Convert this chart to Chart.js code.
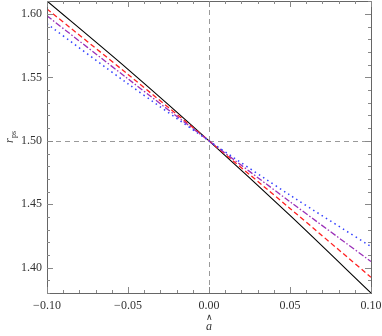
<!DOCTYPE html>
<html lang="en">
<head>
<meta charset="UTF-8">
<title>r_ps vs a-hat</title>
<script src="https://cdn.jsdelivr.net/npm/chart.js"></script>
<style>
body { margin: 0; padding: 0; background: #fff; }
.wrap { position: relative; width: 382px; height: 336px; }
</style>
</head>
<body>
<div class="wrap"><canvas id="rpsChart" width="382" height="336"></canvas></div>
<script>
// values
const aHat = [-0.10, -0.05, 0.00, 0.05, 0.10];
const rBlack  = [1.6103, 1.5564, 1.5000, 1.4412, 1.3800];
const rRed    = [1.6040, 1.5524, 1.5000, 1.4467, 1.3924];
const rPurple = [1.5986, 1.5489, 1.5000, 1.4520, 1.4048];
const rBlue   = [1.5923, 1.5450, 1.5000, 1.4572, 1.4166];
const xTicks = [-0.10, -0.05, 0.00, 0.05, 0.10];
const yTicks = [1.40, 1.45, 1.50, 1.55, 1.60];
const xMinor = 0.01, yMinor = 0.01;
const xRefLine = 0, yRefLine = 1.50;

const pts = arr => arr.map((v, i) => ({ x: aHat[i], y: v }));
const fmt = v => v.toFixed(2).replace('-', '\u2212');
const serif = "'Liberation Serif', 'Times New Roman', serif";

// frame, inward ticks, dashed reference lines and axis titles
const framePlugin = {
  id: 'frame',
  beforeDatasetsDraw(chart) {
    const { ctx, chartArea: a, scales: { x, y } } = chart;
    ctx.save();
    ctx.strokeStyle = '#9a9a9a';
    ctx.lineWidth = 1;
    ctx.setLineDash([5, 4]);
    ctx.beginPath();
    const px = Math.round(x.getPixelForValue(xRefLine)) + 0.5;
    const py = Math.round(y.getPixelForValue(yRefLine)) + 0.5;
    ctx.moveTo(px, a.top); ctx.lineTo(px, a.bottom);
    ctx.moveTo(a.left, py); ctx.lineTo(a.right, py);
    ctx.stroke();
    ctx.restore();
  },
  afterDraw(chart) {
    const { ctx, chartArea: a, scales: { x, y } } = chart;
    ctx.save();
    ctx.strokeStyle = '#666';
    ctx.lineWidth = 1;
    ctx.strokeRect(Math.round(a.left) + 0.5, Math.round(a.top) + 0.5,
      Math.round(a.right - a.left), Math.round(a.bottom - a.top));
    ctx.strokeStyle = '#888';
    ctx.beginPath();
    for (let k = -10; k <= 10; k++) {
      const v = k * xMinor;
      const p = Math.round(x.getPixelForValue(v)) + 0.5;
      const len = k % 5 === 0 ? 6 : 3;
      ctx.moveTo(p, a.bottom); ctx.lineTo(p, a.bottom - len);
      ctx.moveTo(p, a.top); ctx.lineTo(p, a.top + len);
    }
    for (let k = 138; k <= 161; k++) {
      const v = k * yMinor;
      if (v < y.min || v > y.max) continue;
      const p = Math.round(y.getPixelForValue(v)) + 0.5;
      const len = k % 5 === 0 ? 6 : 3;
      ctx.moveTo(a.left, p); ctx.lineTo(a.left + len, p);
      ctx.moveTo(a.right, p); ctx.lineTo(a.right - len, p);
    }
    ctx.stroke();

    // x title: hat over italic a
    ctx.fillStyle = '#333';
    ctx.textAlign = 'center';
    ctx.font = '9px ' + serif;
    const cx = (a.left + a.right) / 2;
    ctx.fillText('\u2227', cx, 320);
    ctx.font = 'italic 12px ' + serif;
    ctx.fillText('a', cx, 330);

    // y title: r with subscript ps, rotated
    ctx.translate(13, 136);
    ctx.rotate(-Math.PI / 2);
    ctx.textAlign = 'left';
    ctx.font = 'italic 12px ' + serif;
    ctx.fillText('r', -7, 0);
    ctx.font = '8px ' + serif;
    ctx.fillText('ps', -2, 3);
    ctx.restore();
  }
};

const line = (data, color, dash, width) => ({
  data: pts(data),
  borderColor: color,
  borderWidth: width,
  borderDash: dash,
  pointRadius: 0,
  fill: false,
  tension: 0.3
});

new Chart(document.getElementById('rpsChart'), {
  type: 'line',
  data: {
    datasets: [
      line(rBlue, '#3340ff', [1.5, 3.5], 1.5),
      line(rPurple, '#9b30b8', [6, 2, 1.5, 2], 1.3),
      line(rRed, '#ff2020', [5, 3], 1.3),
      line(rBlack, '#000', [], 1.1)
    ]
  },
  options: {
    responsive: false,
    animation: false,
    devicePixelRatio: 1,
    layout: { padding: { top: 1, right: 11, left: 0, bottom: 0 } },
    plugins: { legend: { display: false }, tooltip: { enabled: false } },
    scales: {
      x: {
        type: 'linear',
        min: -0.1, max: 0.1,
        grid: { display: false, drawTicks: false },
        border: { display: false },
        afterBuildTicks: s => { s.ticks = xTicks.map(v => ({ value: v })); },
        afterFit: s => { s.height = 43; s.paddingLeft = 0; s.paddingRight = 0; },
        ticks: {
          padding: 6,
          color: '#333',
          font: { family: serif, size: 12 },
          maxRotation: 0,
          callback: v => fmt(v)
        }
      },
      y: {
        type: 'linear',
        min: 1.380, max: 1.6103,
        grid: { display: false, drawTicks: false },
        border: { display: false },
        afterBuildTicks: s => { s.ticks = yTicks.map(v => ({ value: v })); },
        afterFit: s => { s.width = 47; s.paddingTop = 0; s.paddingBottom = 0; },
        ticks: {
          padding: 5,
          color: '#333',
          font: { family: serif, size: 12 },
          callback: v => fmt(v)
        }
      }
    }
  },
  plugins: [framePlugin]
});
</script>
</body>
</html>
